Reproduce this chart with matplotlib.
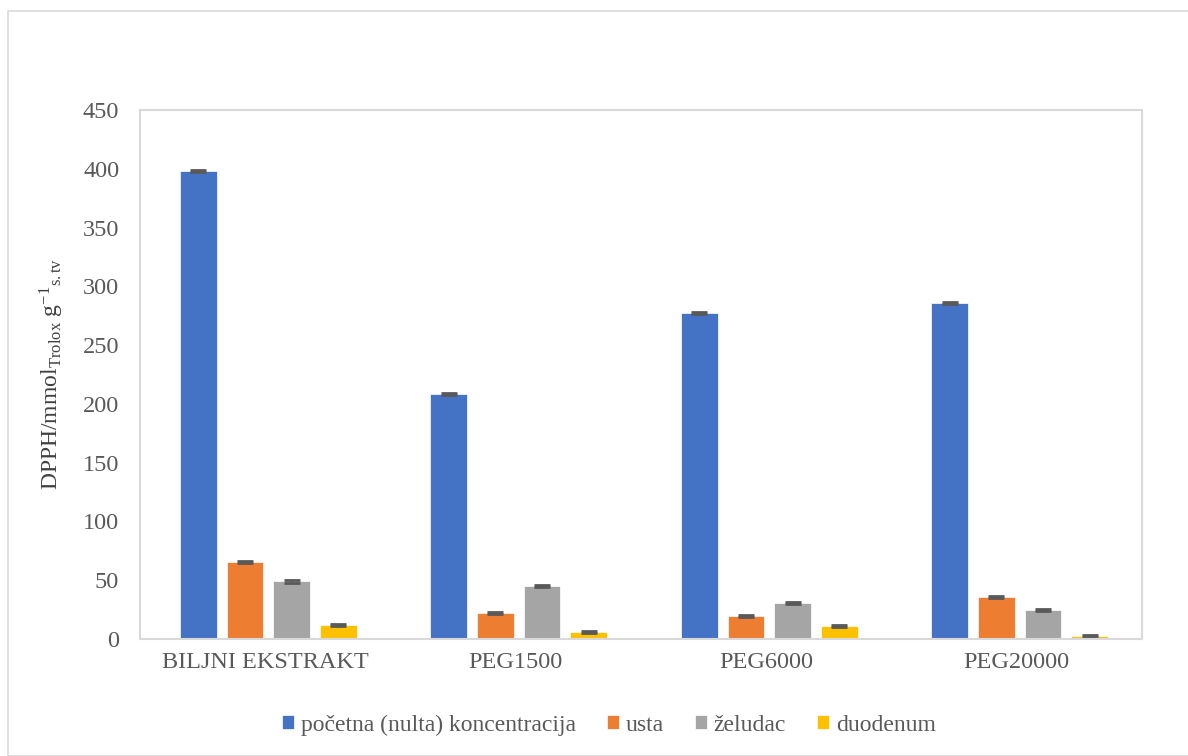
import numpy as np
import matplotlib
matplotlib.use('Agg')
import matplotlib.pyplot as plt
from matplotlib.patches import Rectangle

categories = ['BILJNI EKSTRAKT', 'PEG1500', 'PEG6000', 'PEG20000']
series_names = ['početna (nulta) koncentracija', 'usta', 'želudac', 'duodenum']
pocetna = [398, 208.5, 277.5, 286]
usta = [65.5, 22, 19.5, 35.5]
zeludac = [49, 45, 30.5, 24.5]
duodenum = [12, 6, 11, 2.5]
errors = [[1.0, 1.0, 1.0, 1.0],
          [1.0, 1.0, 1.0, 1.0],
          [1.0, 1.0, 1.0, 1.0],
          [1.0, 1.0, 1.0, 1.0]]
colors = ['#4472C4', '#ED7D31', '#A5A5A5', '#FFC000']


def main():
    plt.rcParams['font.family'] = ['Liberation Serif', 'DejaVu Serif']
    plt.rcParams['mathtext.fontset'] = 'custom'
    plt.rcParams['mathtext.rm'] = 'Liberation Serif'
    plt.rcParams['mathtext.it'] = 'Liberation Serif:italic'

    fig = plt.figure(figsize=(11.88, 7.56), dpi=100)
    fig.patches.append(Rectangle((8 / 1188, 0), 1.2, 1 - 11 / 756, transform=fig.transFigure,
                                 fill=False, edgecolor='#d9d9d9', linewidth=1.2))
    ax = fig.add_axes([140 / 1188, 1 - 639 / 756, 1002 / 1188, 529 / 756])

    data = [pocetna, usta, zeludac, duodenum]
    x = np.arange(len(categories))
    width = 0.147
    step = 0.186
    for i, (vals, name, col) in enumerate(zip(data, series_names, colors)):
        pos = x + (i - 1.5) * step + 0.012
        ax.bar(pos, vals, width, color=col, label=name, edgecolor='white', linewidth=0.5)
        ax.errorbar(pos, vals, yerr=errors[i], fmt='none', ecolor='#595959',
                    elinewidth=1, capsize=6, capthick=2)

    ax.set_xlim(-0.5, 3.5)
    ax.set_ylim(0, 450)
    ax.set_yticks(range(0, 451, 50))
    ax.set_xticks(x)
    ax.set_xticklabels(categories)
    ax.tick_params(axis='both', length=0, labelsize=17.5, colors='#595959', pad=9)
    ax.tick_params(axis='y', pad=15)
    for s in ax.spines.values():
        s.set_color('#d9d9d9')
        s.set_linewidth(1.5)

    ax.set_ylabel(r'DPPH/mmol$_{\mathrm{Trolox}}$ g$^{-1}$$_{\mathrm{s.tv}}$',
                  fontsize=17, color='#404040', labelpad=12)

    fig.legend(loc='center', bbox_to_anchor=(609 / 1188, 1 - 725 / 756), ncol=4, frameon=False,
               fontsize=17, handlelength=0.5, handleheight=0.5, handletextpad=0.3,
               columnspacing=1.3, labelcolor='#595959')

    fig.savefig('out.png', dpi=100)


if __name__ == "__main__":
    main()
